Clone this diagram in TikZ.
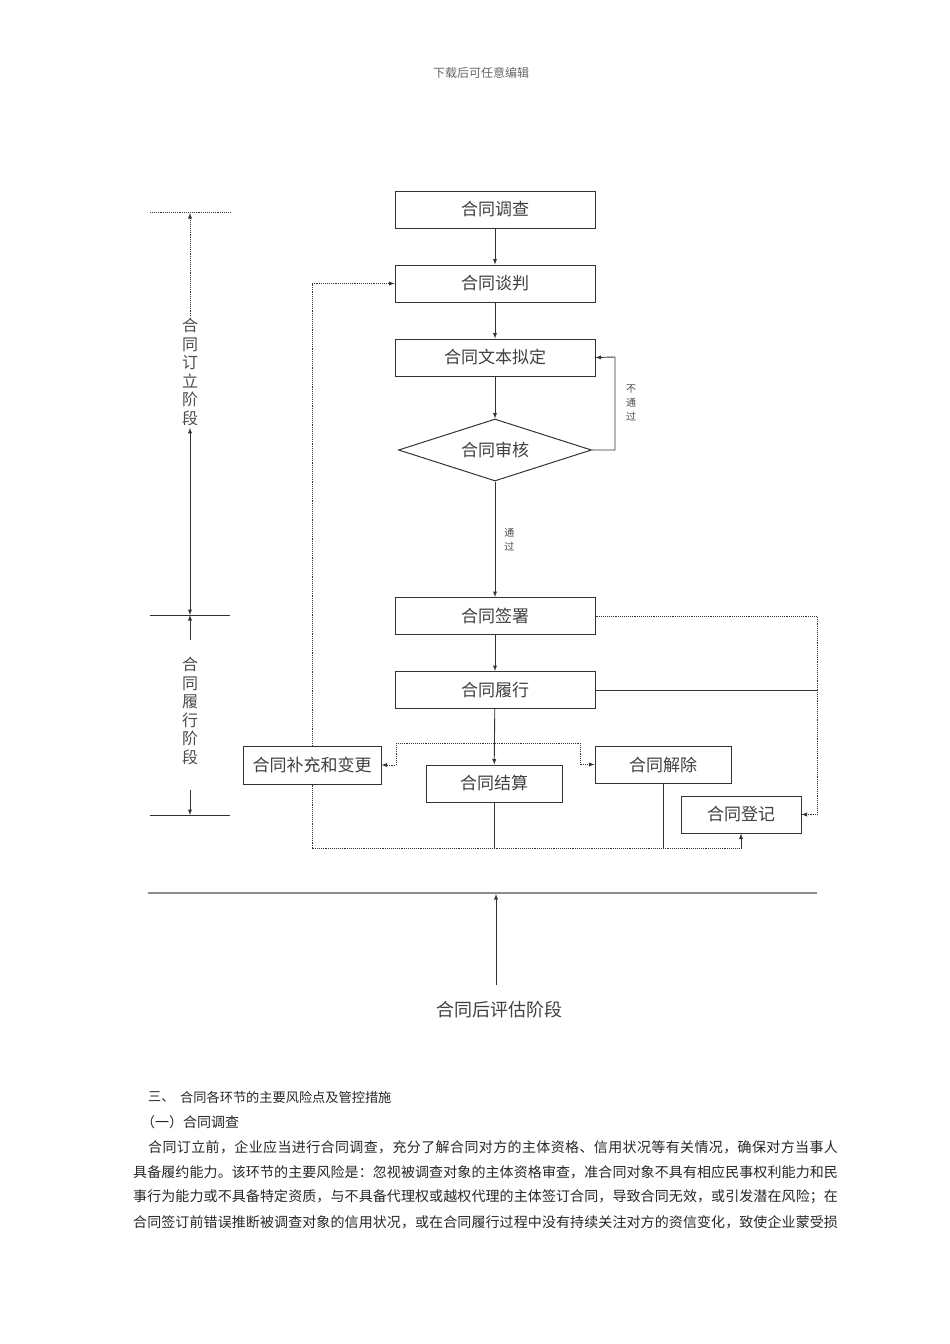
\documentclass[tikz,border=0pt]{standalone}
\usepackage{fontspec}
\setmainfont{Noto Sans CJK SC}
\usetikzlibrary{shapes.geometric,positioning}

\begin{document}
\begin{tikzpicture}[x=1pt, y=-1pt, node distance=74pt, auto]
    \tikzstyle{box} = [rectangle, draw=black!80, line width=1pt, fill=white, text=black!75, font=\fontsize{17}{17}\selectfont, inner sep=0pt, minimum width=200pt, minimum height=37pt]
    \tikzstyle{check} = [diamond, draw=black!80, line width=1pt, fill=white, text=black!75, font=\fontsize{17}{17}\selectfont, inner sep=0pt, minimum width=193pt, minimum height=62pt, aspect=3.1]
    \tikzstyle{line} = [draw=black!80, line width=0.9pt, -latex]
    \tikzstyle{dotline} = [draw=black!80, line width=0.9pt, densely dotted]
    \tikzstyle{stage} = [text=black!70, font=\fontsize{16}{18.5}\selectfont, align=center, inner sep=2pt]
    \tikzstyle{tag} = [text=black!70, font=\fontsize{10}{14}\selectfont, align=center, inner sep=0pt]
    \tikzstyle{para} = [anchor=west, inner sep=0pt, text=black!85, font=\fontsize{14}{14}\selectfont]

    \useasboundingbox (0,0) rectangle (950,1344);

    % page header
    \node [text=black!60, font=\fontsize{12}{12}\selectfont] (head) at (481,73) {下载后可任意编辑};

    % main column
    \node [box] (survey) at (495,209.5) {合同调查};
    \node [box, below of=survey] (negot) {合同谈判};
    \node [box, below of=negot] (draft) {合同文本拟定};
    \node [check] (review) at (495,450) {合同审核};
    \node [box] (sign) at (495,616) {合同签署};
    \node [box, below of=sign] (perform) {合同履行};

    % branches
    \node [box, minimum width=138pt, minimum height=38pt] (supp) at (312,765) {合同补充和变更};
    \node [box, minimum width=136pt] (settle) at (494,783.5) {合同结算};
    \node [box, minimum width=136pt] (term) at (663,764.5) {合同解除};
    \node [box, minimum width=120pt] (reg) at (741,814.5) {合同登记};

    \draw [line] (survey) -- (negot);
    \draw [line] (negot) -- (draft);
    \draw [line] (draft) -- (review);
    \draw [line] (review) -- node [tag, right=9pt] {通\\过} (sign);
    \draw [line] (sign) -- (perform);

    % not passed: back to drafting
    \coordinate (fb) at (615,357);
    \draw [line] (review.east) -| (fb) -- (draft.east);
    \node [tag] (nopass) at (631,403) {不\\通\\过};

    % perform splits
    \coordinate (brL) at (396,743);
    \coordinate (brR) at (580,743);
    \draw [line] (perform) -- (settle);
    \draw [dotline] (brL) -- (brR);
    \draw [line, densely dotted] (brL) |- (supp.east);
    \draw [line, densely dotted] (brR) |- (term.west);

    % change goes back to negotiation
    \draw [line, densely dotted] (supp.north) |- (negot.west);

    % everything to registration
    \coordinate (bot) at (741,848);
    \draw [dotline] (supp.south) |- (bot);
    \draw [line] (bot) -- (reg.south);
    \draw [draw=black!80, line width=0.9pt] (settle.south) -- (settle.south |- bot);
    \draw [draw=black!80, line width=0.9pt] (term.south) -- (term.south |- bot);
    \coordinate (rc) at (817,690);
    \draw [dotline] (sign.east) -| (rc);
    \draw [draw=black!80, line width=0.9pt] (perform.east) -- (rc);
    \draw [line, densely dotted] (rc) |- (reg.east);

    % stage marks on the left
    \coordinate (s1L) at (150,212);
    \coordinate (s1R) at (230,212);
    \coordinate (s1top) at (190,213);
    \coordinate (s1bot) at (190,615);
    \coordinate (s2L) at (150,615);
    \coordinate (s2R) at (230,615);
    \coordinate (s2a) at (190,640);
    \coordinate (s2b) at (190,790);
    \coordinate (s2bot) at (190,815);
    \coordinate (s3L) at (150,815);
    \coordinate (s3R) at (230,815);
    \draw [dotline] (s1L) -- (s1R);
    \draw [black!80, line width=0.9pt] (s2L) -- (s2R);
    \draw [black!80, line width=0.9pt] (s3L) -- (s3R);
    \node [stage] (stage1) at (190,372) {合\\同\\订\\立\\阶\\段};
    \node [stage] (stage2) at (190,711) {合\\同\\履\\行\\阶\\段};
    \draw [line, densely dotted] (stage1.north) -- (s1top);
    \draw [line, latex-latex] (stage1.south) -- (s1bot);
    \draw [line] (s2a) -- (s1bot);
    \draw [line] (s2b) -- (s2bot);

    % post evaluation
    \coordinate (hl) at (148,893);
    \coordinate (hr) at (817,893);
    \draw [black!45, line width=2.2pt] (hl) -- (hr);
    \node [text=black!75, font=\fontsize{18}{18}\selectfont] (post) at (499,1010) {合同后评估阶段};
    \coordinate (pstart) at (496,985);
    \coordinate (pend) at (496,894);
    \draw [line] (pstart) -- (pend);

    % text below
    \node [para, font=\fontsize{13.2}{14}\selectfont] (h1a) at (148,1097) {三、};
    \node [para, font=\fontsize{13.2}{14}\selectfont] (h1b) at (180,1097) {合同各环节的主要风险点及管控措施};
    \node [para] (h2) at (141,1122) {（一）合同调查};
    \node [para] (p1) at (148,1147) {\addfontfeature{LetterSpace=2.7}合同订立前，企业应当进行合同调查，充分了解合同对方的主体资格、信用状况等有关情况，确保对方当事人};
    \node [para] (p2) at (133,1172) {\addfontfeature{LetterSpace=0.7}具备履约能力。该环节的主要风险是：忽视被调查对象的主体资格审查，准合同对象不具有相应民事权利能力和民};
    \node [para] (p3) at (133,1197) {\addfontfeature{LetterSpace=0.7}事行为能力或不具备特定资质，与不具备代理权或越权代理的主体签订合同，导致合同无效，或引发潜在风险；在};
    \node [para] (p4) at (133,1222) {\addfontfeature{LetterSpace=0.7}合同签订前错误推断被调查对象的信用状况，或在合同履行过程中没有持续关注对方的资信变化，致使企业蒙受损};
\end{tikzpicture}
\end{document}
